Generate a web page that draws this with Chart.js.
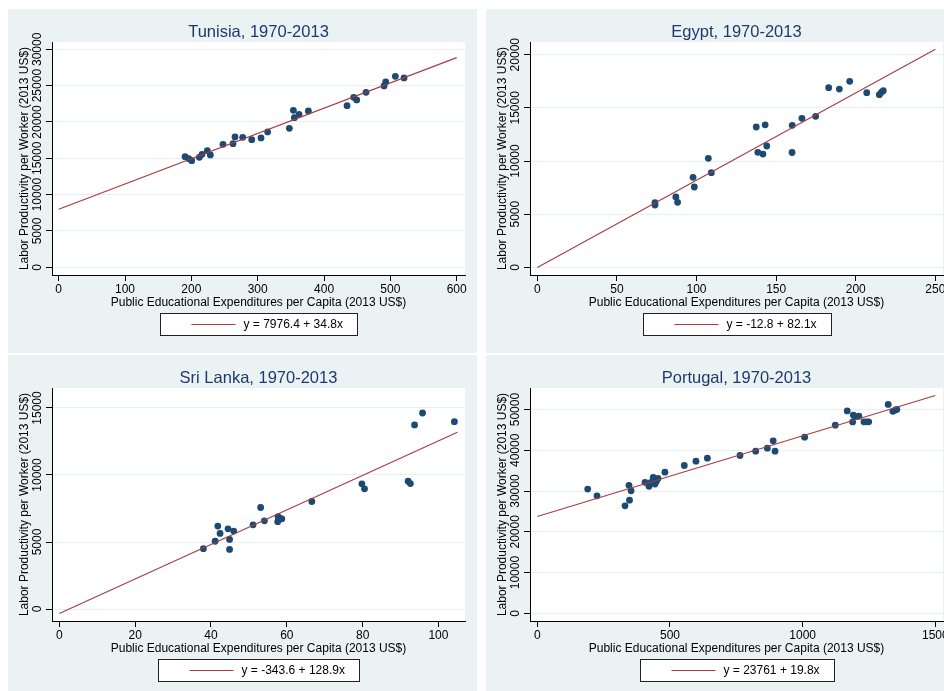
<!DOCTYPE html>
<html>
<head>
<meta charset="utf-8">
<title>Labor productivity vs. public educational expenditures, 1970-2013</title>
<script src="https://cdn.jsdelivr.net/npm/chart.js@4.4.0/dist/chart.umd.min.js"></script>
<style>
  html, body { margin: 0; padding: 0; background: #ffffff; width: 944px; height: 691px; overflow: hidden; position: relative; }
  canvas { position: absolute; }
</style>
</head>
<body>
<canvas id="tunisia" width="469" height="344" style="left:8px;top:9px"></canvas>
<canvas id="egypt" width="469" height="344" style="left:486px;top:9px"></canvas>
<canvas id="srilanka" width="469" height="344" style="left:8px;top:355px"></canvas>
<canvas id="portugal" width="469" height="344" style="left:486px;top:355px"></canvas>
<script>
// ---- Tunisia ----
const tunisiaSpend = [190.5, 196, 200.5, 212, 216, 224, 228.6, 247.7, 262.8, 265.8, 277.4, 291, 305, 315,
  347.7, 353.8, 355.3, 362.3, 376.4, 434.7, 444.7, 449.2, 463.3, 490.5, 493, 507.5, 520.6];
const tunisiaProd = [15229, 14950, 14679, 15138, 15550, 16055, 15459, 16927, 17018, 17936, 17890, 17569, 17798, 18624,
  19128, 21606, 20596, 21055, 21514, 22248, 23394, 23028, 24083, 24954, 25505, 26284, 26055];
const tunisiaFit = [7976.4, 34.8];          // intercept, slope
const tunisiaFitSpan = [0, 600];
const tunisiaXTicks = [0, 100, 200, 300, 400, 500, 600];
const tunisiaYTicks = [0, 5000, 10000, 15000, 20000, 25000, 30000];

// ---- Egypt ----
const egyptSpend = [73.9, 73.9, 87.0, 88.1, 97.8, 98.6, 107.4, 109.3, 137.5, 138.5, 141.7, 143.1, 144.1,
  160.0, 160.1, 166.2, 174.8, 183.0, 189.7, 196.2, 206.9, 214.8, 216.1, 217.3];
const egyptProd = [6082, 5862, 6614, 6113, 8464, 7555, 10251, 8903, 13198, 10815, 10650, 13400, 11411,
  10800, 13358, 14013, 14201, 16897, 16771, 17492, 16426, 16238, 16458, 16614];
const egyptFit = [-12.8, 82.1];
const egyptFitSpan = [0, 250];
const egyptXTicks = [0, 50, 100, 150, 200, 250];
const egyptYTicks = [0, 5000, 10000, 15000, 20000];

// ---- Sri Lanka ----
const sriLankaSpend = [38.0, 41.1, 41.8, 42.4, 44.5, 44.9, 44.9, 46.0, 51.1, 53.1, 54.1, 57.6, 57.7, 58.2, 58.7,
  66.6, 79.8, 80.5, 92.0, 92.6, 93.7, 95.8, 104.2];
const sriLankaProd = [4500, 5055, 6185, 5640, 5985, 5192, 4447, 5812, 6283, 7574, 6580, 6520, 6900, 6760, 6730,
  8021, 9337, 8965, 9536, 9362, 13732, 14626, 13980];
const sriLankaFit = [-343.6, 128.9];
const sriLankaFitSpan = [0, 105];
const sriLankaXTicks = [0, 20, 40, 60, 80, 100];
const sriLankaYTicks = [0, 5000, 10000, 15000];

// ---- Portugal ----
const portugalSpend = [190, 225, 330.6, 345.6, 347.5, 353.5, 406, 421, 428.5, 437, 443.5, 448.5, 455, 481,
  554, 598, 641, 764, 823, 867, 889, 896, 1007.5, 1123, 1168, 1188.5, 1191, 1198, 1212, 1231, 1241, 1249,
  1322.5, 1340, 1349, 1355];
const portugalProd = [30500, 28830, 26380, 31410, 27775, 30055, 32150, 31160, 32140, 33370, 31740, 32435, 33090, 34635,
  36275, 37337, 38072, 38725, 39788, 40523, 42320, 39788, 43219, 46160, 49665, 46970, 48650, 48284, 48362, 47000, 47000, 47000,
  51260, 49580, 49880, 50037];
const portugalFit = [23761, 19.8];
const portugalFitSpan = [0, 1500];
const portugalXTicks = [0, 500, 1000, 1500];
const portugalYTicks = [0, 10000, 20000, 30000, 40000, 50000];

const FONT = '"Liberation Sans", Arial, Helvetica, sans-serif';
const X_TITLE = 'Public Educational Expenditures per Capita (2013 US$)';
const Y_TITLE = 'Labor Productivity per Worker (2013 US$)';

// Bluish-grey graph region with a white plot region
const panelBackground = {
  id: 'panelBackground',
  beforeDraw(chart) {
    const { ctx, chartArea: a, width, height } = chart;
    ctx.save();
    ctx.fillStyle = '#eaf2f3';
    ctx.fillRect(0, 0, width, height);
    ctx.fillStyle = '#ffffff';
    ctx.fillRect(a.left, a.top, a.right - a.left, a.bottom - a.top);
    ctx.restore();
  }
};

// Framed key for the fitted line, centred under the x-axis title
const fitLegend = {
  id: 'fitLegend',
  afterDraw(chart) {
    const ds = chart.data.datasets.find(d => d.isFit);
    const { ctx, chartArea: a } = chart;
    const xs = chart.scales.x;
    ctx.save();
    ctx.font = '12px ' + FONT;
    const tw = ctx.measureText(ds.label).width;
    const w = Math.round(tw + 98), h = 22;
    const left = Math.round((a.left + a.right) / 2 - w / 2) + 0.5;
    const top = Math.round(xs.bottom + 3) + 0.5;
    ctx.fillStyle = '#ffffff';
    ctx.fillRect(left, top, w, h);
    ctx.strokeStyle = '#222222';
    ctx.lineWidth = 1;
    ctx.strokeRect(left, top, w, h);
    ctx.strokeStyle = ds.borderColor;
    ctx.lineWidth = ds.borderWidth;
    ctx.beginPath();
    ctx.moveTo(left + 31, top + h / 2);
    ctx.lineTo(left + 75, top + h / 2);
    ctx.stroke();
    ctx.fillStyle = '#000000';
    ctx.textBaseline = 'middle';
    ctx.textAlign = 'left';
    ctx.fillText(ds.label, left + 83, top + h / 2 + 0.5);
    ctx.restore();
  }
};

function makePanel(id, title, spend, prod, fit, fitSpan, xTicks, yTicks, xRange, yRange) {
  const points = spend.map((x, i) => ({ x, y: prod[i] }));
  const fitLine = fitSpan.map(x => ({ x, y: fit[0] + fit[1] * x }));
  const tickFont = { family: FONT, size: 12 };
  return new Chart(document.getElementById(id), {
    data: {
      datasets: [
        {
          type: 'line',
          isFit: true,
          label: 'y = ' + fit[0] + ' + ' + fit[1] + 'x',
          data: fitLine,
          borderColor: '#a63c42',
          borderWidth: 1.1,
          pointRadius: 0,
          fill: false,
          order: 0
        },
        {
          type: 'scatter',
          label: title,
          data: points,
          backgroundColor: '#1c4a72',
          borderWidth: 0,
          pointRadius: 3.4,
          pointHoverRadius: 3.4,
          order: 1
        }
      ]
    },
    options: {
      responsive: false,
      animation: false,
      events: [],
      layout: { padding: { left: 9.1, right: 12, top: 0, bottom: 42.8 } },
      plugins: {
        legend: { display: false },
        tooltip: { enabled: false },
        title: {
          display: true,
          text: title,
          fullSize: false,
          color: '#1e3a6b',
          font: { family: FONT, size: 16.5, weight: 'normal' },
          padding: { top: 13.2, bottom: 0 }
        }
      },
      scales: {
        x: {
          type: 'linear',
          position: 'bottom',
          min: xRange[0],
          max: xRange[1],
          afterBuildTicks: s => { s.ticks = xTicks.map(v => ({ value: v })); },
          afterFit: s => { s.height = 35.2; },
          grid: { drawOnChartArea: false, tickLength: 6, tickColor: '#000000', tickWidth: 1 },
          border: { color: '#000000', width: 1 },
          ticks: { color: '#000000', font: tickFont, padding: 1, maxRotation: 0, autoSkip: false, callback: v => String(v) },
          title: { display: true, text: X_TITLE, color: '#000000', font: tickFont, padding: 0 }
        },
        y: {
          type: 'linear',
          position: 'left',
          min: yRange[0],
          max: yRange[1],
          afterBuildTicks: s => { s.ticks = yTicks.map(v => ({ value: v })); },
          afterFit: s => { s.width = 34.9; },
          grid: { color: '#e6eff1', lineWidth: 1, tickLength: 6, tickColor: '#000000', tickWidth: 1 },
          border: { color: '#000000', width: 1 },
          ticks: { color: '#000000', font: tickFont, minRotation: 90, maxRotation: 90, crossAlign: 'center', padding: -8.4, autoSkip: false, callback: v => String(v) },
          title: { display: true, text: Y_TITLE, color: '#000000', font: tickFont, padding: 0 }
        }
      }
    },
    plugins: [panelBackground, fitLegend]
  });
}

makePanel('tunisia', 'Tunisia, 1970-2013', tunisiaSpend, tunisiaProd, tunisiaFit, tunisiaFitSpan,
  tunisiaXTicks, tunisiaYTicks, [-10.1, 612.5], [-1060, 31005]);
makePanel('egypt', 'Egypt, 1970-2013', egyptSpend, egyptProd, egyptFit, egyptFitSpan,
  egyptXTicks, egyptYTicks, [-4.6, 254.8], [-724, 21195]);
makePanel('srilanka', 'Sri Lanka, 1970-2013', sriLankaSpend, sriLankaProd, sriLankaFit, sriLankaFitSpan,
  sriLankaXTicks, sriLankaYTicks, [-1.93, 107.0], [-894, 16490]);
makePanel('portugal', 'Portugal, 1970-2013', portugalSpend, portugalProd, portugalFit, portugalFitSpan,
  portugalXTicks, portugalYTicks, [-27.5, 1529], [-1887, 55294]);
</script>
</body>
</html>
